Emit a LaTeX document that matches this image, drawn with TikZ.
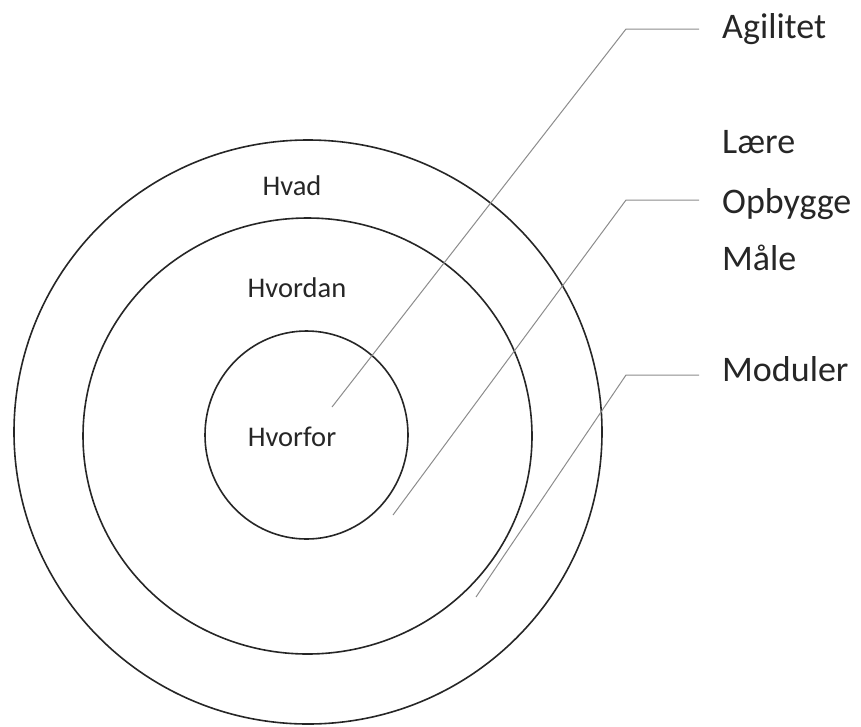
\documentclass[tikz,border=0pt]{standalone}
\usepackage{fontspec}
\setmainfont{Carlito}
\begin{document}
\begin{tikzpicture}[x=1pt,y=-1pt,
  ring/.style={draw=black!85, line width=1.6pt},
  leader/.style={draw=black!45, line width=1pt},
  ringtext/.style={font=\fontsize{28.5}{32}\selectfont, text=black!85},
  sidetext/.style={font=\fontsize{36}{40}\selectfont, anchor=base west, inner sep=0pt, text=black!85}]
\useasboundingbox (0,0) rectangle (861,726);

\draw[ring] (308,432) ellipse [x radius=294pt, y radius=292pt];
\draw[ring] (307.5,436) ellipse [x radius=224.5pt, y radius=218pt];
\draw[ring] (306.5,435) ellipse [x radius=101.5pt, y radius=104pt];

\node[ringtext] (hvad) at (292,186) {Hvad};
\node[ringtext] (hvordan) at (297,288) {Hvordan};
\node[ringtext] (hvorfor) at (292,437) {Hvorfor};

\node[sidetext] (agilitet) at (722,38) {Agilitet};
\node[sidetext] (laere) at (722,153) {Lære};
\node[sidetext] (opbygge) at (722,213) {Opbygge};
\node[sidetext] (maale) at (722,270) {Måle};
\node[sidetext] (moduler) at (722,381) {Moduler};

\coordinate (agi end) at (332,407);
\coordinate (agi bend) at (626,29);
\coordinate (agi tip) at (699,29);
\coordinate (opb end) at (393,515);
\coordinate (opb bend) at (626,200);
\coordinate (opb tip) at (699,200);
\coordinate (mod end) at (476,597);
\coordinate (mod bend) at (626,375);
\coordinate (mod tip) at (699,375);

\draw[leader] (agi end) -- (agi bend) -- (agi tip);
\draw[leader] (opb end) -- (opb bend) -- (opb tip);
\draw[leader] (mod end) -- (mod bend) -- (mod tip);
\end{tikzpicture}
\end{document}
